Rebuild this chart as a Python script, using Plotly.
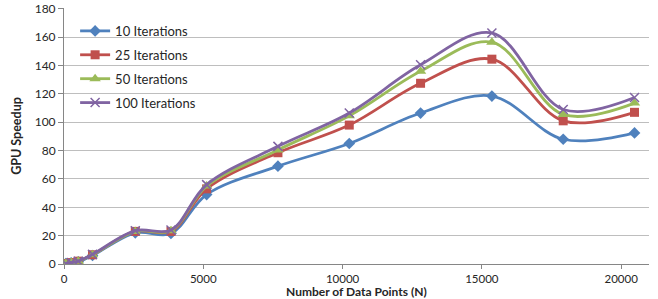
import plotly.graph_objects as go

n_points = [64, 256, 512, 1024, 2560, 3840, 5120, 7680, 10240, 12800, 15360, 17920, 20480]
it10 = [0.3, 0.8, 1.5, 6.0, 22.0, 21.5, 49.0, 69.0, 85.0, 106.5, 118.5, 88.0, 92.5]
it25 = [0.3, 1.0, 2.0, 6.5, 23.0, 23.0, 53.0, 78.5, 98.0, 127.5, 144.5, 101.0, 107.0]
it50 = [0.3, 1.0, 2.0, 6.5, 23.0, 23.5, 55.0, 80.5, 104.5, 136.0, 156.5, 105.5, 113.5]
it100 = [0.3, 1.0, 2.0, 6.8, 23.5, 24.0, 56.0, 83.0, 106.5, 140.5, 163.0, 109.0, 117.5]
series_names = ["10 Iterations", "25 Iterations", "50 Iterations", "100 Iterations"]
x_ticks = [0, 5000, 10000, 15000, 20000]
y_ticks = [0, 20, 40, 60, 80, 100, 120, 140, 160, 180]

colors = ["#4F81BD", "#C0504D", "#9BBB59", "#8064A2"]
symbols = ["diamond", "square", "triangle-up", "x-thin"]
sizes = [9, 9, 10, 9]

fig = go.Figure()
for i, (name, vals) in enumerate(zip(series_names, [it10, it25, it50, it100])):
    marker = dict(symbol=symbols[i], size=sizes[i], color=colors[i])
    if symbols[i] == "x-thin":
        marker["line"] = dict(color=colors[i], width=1.5)
    fig.add_trace(go.Scatter(
        x=n_points, y=vals, name=name, mode="lines+markers",
        line=dict(color=colors[i], width=2.8, shape="spline", smoothing=1.0),
        marker=marker, legendgroup=name,
    ))

font_family = "Lato, Open Sans, sans-serif"
fig.update_layout(
    width=658, height=299,
    margin=dict(l=64, r=9, t=8, b=35),
    paper_bgcolor="white", plot_bgcolor="white",
    font=dict(family=font_family, size=12, color="#262626"),
    legend=dict(x=0.019, y=0.969, xanchor="left", yanchor="top",
                bgcolor="rgba(0,0,0,0)", font=dict(size=13, color="#262626"),
                tracegroupgap=4, itemwidth=30),
    showlegend=True,
    annotations=[dict(text="<b>Number of Data Points (N)</b>", xref="paper", yref="paper",
                      x=0.5, y=-0.108, xanchor="center", yanchor="middle",
                      showarrow=False, font=dict(size=12, color="#262626"))],
)
fig.update_xaxes(
    range=[0, 21000], tickvals=x_ticks, ticktext=[str(v) for v in x_ticks],
    showgrid=False, zeroline=False, showline=True, linecolor="#868686", linewidth=1,
    ticks="outside", ticklen=4, tickcolor="#868686", automargin=False,
    tickfont=dict(size=11.5, color="#262626"),
)
fig.update_yaxes(
    range=[0, 180.6], tickvals=y_ticks,
    showgrid=True, gridcolor="#BEBEBE", gridwidth=1.3, zeroline=False,
    showline=True, linecolor="#868686", linewidth=1,
    ticks="outside", ticklen=5, tickcolor="#868686", automargin=False,
    tickfont=dict(size=12, color="#262626"),
    title=dict(text="<b>GPU Speedup</b>", font=dict(size=12.5), standoff=10),
)
fig.write_html("out.html", config={"displayModeBar": False},
               post_script="document.body.style.margin='0';")
